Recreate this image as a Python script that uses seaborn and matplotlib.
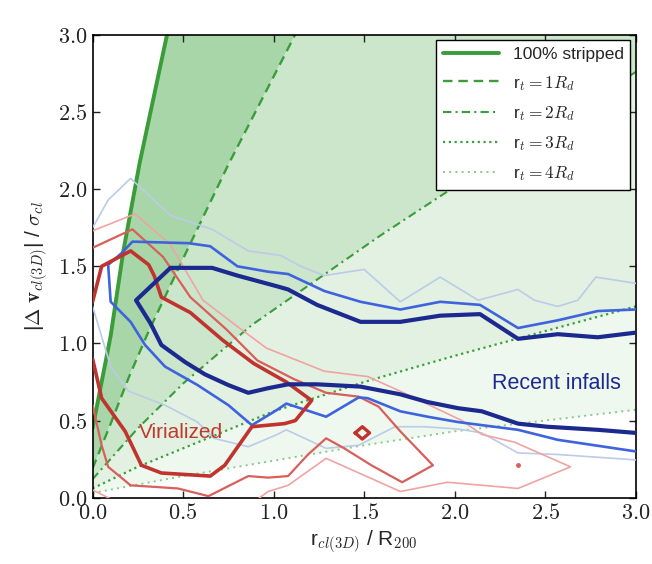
import numpy as np
import matplotlib
matplotlib.use('Agg')
import matplotlib.pyplot as plt
import seaborn as sns
from matplotlib.ticker import FuncFormatter

# stripping curves
strip_x = [0.0, 0.1, 0.17, 0.26, 0.42]
strip_y = [0.45, 1.05, 1.6, 2.17, 3.05]
rt1_x = [0.0, 0.1, 0.2, 0.31, 0.5, 0.75, 1.14]
rt1_y = [0.19, 0.48, 0.78, 1.08, 1.55, 2.16, 3.05]
rt2_x = [0.0, 0.25, 0.5, 0.88, 1.59, 2.2, 3.0]
rt2_y = [0.12, 0.45, 0.74, 1.12, 1.70, 2.17, 2.76]
rt3_x = [0.0, 0.25, 0.5, 1.0, 1.5, 2.0, 2.5, 3.0]
rt3_y = [0.06, 0.2, 0.32, 0.56, 0.75, 0.92, 1.08, 1.24]
rt4_x = [0.0, 0.5, 1.0, 1.5, 2.0, 2.5, 3.0]
rt4_y = [0.03, 0.14, 0.24, 0.34, 0.43, 0.50, 0.57]

# recent infalls contours
navy_x = [3.0, 2.79, 2.57, 2.35, 2.14, 1.92, 1.70, 1.48, 1.24, 1.08, 1.02, 0.80, 0.66, 0.43, 0.24,
          0.32, 0.38, 0.51, 0.62, 0.75, 0.86, 0.97, 1.08, 1.24, 1.48, 1.70, 1.85, 2.02, 2.15, 2.35, 2.51, 2.79, 3.0]
navy_y = [1.07, 1.04, 1.06, 1.03, 1.19, 1.18, 1.14, 1.14, 1.25, 1.35, 1.37, 1.44, 1.49, 1.49, 1.28,
          1.13, 0.99, 0.88, 0.80, 0.73, 0.68, 0.71, 0.735, 0.735, 0.72, 0.67, 0.62, 0.58, 0.56, 0.48, 0.46, 0.44, 0.42]
mblue_x = [3.0, 2.79, 2.57, 2.35, 2.14, 1.92, 1.70, 1.48, 1.28, 1.08, 0.97, 0.80, 0.65, 0.53, 0.22, 0.16, 0.086,
           0.10, 0.21, 0.29, 0.40, 0.58, 0.75, 0.88, 1.02, 1.07, 1.29, 1.47, 1.52, 1.70, 1.85, 2.02, 2.35, 2.57, 3.0]
mblue_y = [1.22, 1.21, 1.15, 1.10, 1.25, 1.27, 1.22, 1.27, 1.34, 1.45, 1.465, 1.50, 1.63, 1.65, 1.66, 1.585, 1.51,
           1.27, 1.14, 0.99, 0.85, 0.73, 0.60, 0.47, 0.57, 0.61, 0.525, 0.65, 0.645, 0.56, 0.525, 0.49, 0.44, 0.375, 0.30]
pblue_up_x = [0.0, 0.086, 0.21, 0.43, 0.66, 0.86, 1.04, 1.15, 1.28, 1.50, 1.70, 1.92, 2.13, 2.35, 2.44, 2.57, 2.68, 2.78, 3.0]
pblue_up_y = [1.75, 1.93, 2.07, 1.83, 1.74, 1.60, 1.57, 1.50, 1.44, 1.48, 1.27, 1.43, 1.28, 1.35, 1.28, 1.24, 1.28, 1.43, 1.39]
pblue_lo_x = [0.0, 0.10, 0.20, 0.40, 0.58, 0.67, 0.86, 1.02, 1.07, 1.29, 1.47, 1.67, 1.83, 2.02, 2.15, 2.35, 2.57, 3.0]
pblue_lo_y = [1.24, 0.85, 0.69, 0.60, 0.49, 0.385, 0.33, 0.41, 0.44, 0.32, 0.34, 0.46, 0.46, 0.445, 0.42, 0.29, 0.28, 0.245]

# virialized contours
dred_x = [0.0, 0.05, 0.18, 0.27, 0.38, 0.65, 0.73, 0.88, 1.06, 1.12, 1.21, 1.07, 0.89, 0.72, 0.54, 0.38, 0.34, 0.31, 0.21, 0.05, 0.0]
dred_y = [0.90, 0.645, 0.43, 0.21, 0.16, 0.14, 0.21, 0.46, 0.48, 0.50, 0.63, 0.75, 0.87, 1.02, 1.20, 1.30, 1.44, 1.51, 1.60, 1.50, 1.27]
dred_dia_x = [1.45, 1.49, 1.53, 1.49, 1.45]
dred_dia_y = [0.42, 0.46, 0.42, 0.38, 0.42]
mred_x = [0.0, 0.22, 0.39, 0.54, 0.74, 0.91, 1.11, 1.29, 1.47, 1.58, 1.70, 1.88, 1.71, 1.54, 1.39, 1.29, 1.19, 1.08,
          0.97, 0.86, 0.64, 0.47, 0.21, 0.086, 0.05, 0.0]
mred_y = [1.62, 1.74, 1.56, 1.30, 1.09, 0.89, 0.77, 0.68, 0.655, 0.59, 0.43, 0.21, 0.10, 0.21, 0.32, 0.385, 0.28, 0.14,
          0.13, 0.14, 0.01, 0.06, 0.08, 0.20, 0.34, 0.60]
pred_x = [0.0, 0.235, 0.43, 0.61, 0.80, 0.96, 1.28, 1.52, 1.70, 2.04, 2.15, 2.33, 2.64, 2.35, 1.96, 1.70, 1.29, 1.08, 0.97, 0.9]
pred_y = [1.73, 1.84, 1.64, 1.28, 1.11, 0.97, 0.82, 0.785, 0.69, 0.50, 0.41, 0.36, 0.20, 0.06, 0.10, 0.04, 0.255, 0.08, 0.04, -0.02]
pred_corner_x = [0.0, 0.12]
pred_corner_y = [0.05, -0.02]
pred_dot_x = [2.35]
pred_dot_y = [0.21]

legend_labels = ['100% stripped', r'r$_t = 1R_d$', r'r$_t = 2R_d$', r'r$_t = 3R_d$', r'r$_t = 4R_d$']

sns.set_style('ticks')
plt.rcParams['font.family'] = ['Liberation Sans', 'DejaVu Sans']
plt.rcParams['mathtext.fontset'] = 'cm'

fig = plt.figure(figsize=(6.52, 5.64), dpi=100)
ax = fig.add_axes([0.142, 0.1176, 0.833, 0.8204])

green = '#3a9d3a'
fills = [(strip_x, strip_y, rt1_x, rt1_y, '#a8d6a8'),
         (rt1_x, rt1_y, rt2_x, rt2_y, '#cbe6cb'),
         (rt2_x, rt2_y, rt3_x, rt3_y, '#e2f1e2'),
         (rt3_x, rt3_y, rt4_x, rt4_y, '#eff8ef')]
for ux, uy, lx, ly, c in fills:
    px = list(lx) + [3.3] + list(ux)[::-1]
    py = list(ly) + [3.3] + list(uy)[::-1]
    ax.fill(px, py, color=c, lw=0, zorder=0)

curves = [(strip_x, strip_y, '-', 2.8, green),
          (rt1_x, rt1_y, (0, (4, 2.5)), 1.7, green),
          (rt2_x, rt2_y, (0, (4, 2, 1, 2)), 1.5, green),
          (rt3_x, rt3_y, (0, (1, 1.6)), 1.6, '#3aa03a'),
          (rt4_x, rt4_y, (0, (1, 2.2)), 1.4, '#88c988')]
handles = []
for (cx, cy, ls, lw, c), lab in zip(curves, legend_labels):
    sns.lineplot(x=cx, y=cy, sort=False, estimator=None, color=c, lw=lw, linestyle=ls, ax=ax, zorder=2)
    handles.append(ax.lines[-1])
    handles[-1].set_label(lab)

contours = [(pblue_up_x, pblue_up_y, '#bccbe7', 1.2),
            (pblue_lo_x, pblue_lo_y, '#bccbe7', 1.2),
            (pred_x, pred_y, '#f0a4a2', 1.2),
            (pred_corner_x, pred_corner_y, '#f0a4a2', 1.2),
            (mred_x, mred_y, '#d85f5a', 1.6),
            (mblue_x, mblue_y, '#3e63dc', 1.9),
            (dred_x, dred_y, '#c0332e', 2.6),
            (dred_dia_x, dred_dia_y, '#c0332e', 2.4),
            (navy_x, navy_y, '#1c2a8f', 3.0)]
for cx, cy, c, lw in contours:
    sns.lineplot(x=cx, y=cy, sort=False, estimator=None, color=c, lw=lw, ax=ax, zorder=3)
ax.plot(pred_dot_x, pred_dot_y, marker='o', ms=2.5, color='#d85f5a', ls='none', zorder=3)

ax.text(0.49, 0.425, 'Virialized', color='#c0392b', fontsize=15, ha='center', va='center', zorder=4)
ax.text(2.56, 0.74, 'Recent infalls', color='#1c2a8f', fontsize=15.5, ha='center', va='center', zorder=4)

ax.set_xlim(0, 3)
ax.set_ylim(0, 3)
ax.set_xticks(np.arange(0, 3.01, 0.5))
ax.set_yticks(np.arange(0, 3.01, 0.5))
fmt = FuncFormatter(lambda v, p: f'${v:.1f}$')
ax.xaxis.set_major_formatter(fmt)
ax.yaxis.set_major_formatter(fmt)
ax.tick_params(direction='in', top=True, right=True, length=5, width=1, labelsize=16, colors='#222222')
for s in ax.spines.values():
    s.set_color('black')
    s.set_linewidth(1.2)

ax.set_xlabel(r'r$_{cl(3D)}$ / R$_{200}$', fontsize=15, labelpad=4)
ax.set_ylabel(r'|$\Delta$ $\mathbf{v}_{cl(3D)}$| / $\sigma_{cl}$', fontsize=15, labelpad=6)

leg = ax.legend(handles=handles, loc='upper right', fontsize=12.5, frameon=True, fancybox=False,
                edgecolor='black', framealpha=1, handlelength=3.2, labelspacing=0.65,
                borderaxespad=0.3)
leg.get_frame().set_linewidth(1.0)
leg.set_zorder(5)

plt.savefig('out.png', dpi=100)
